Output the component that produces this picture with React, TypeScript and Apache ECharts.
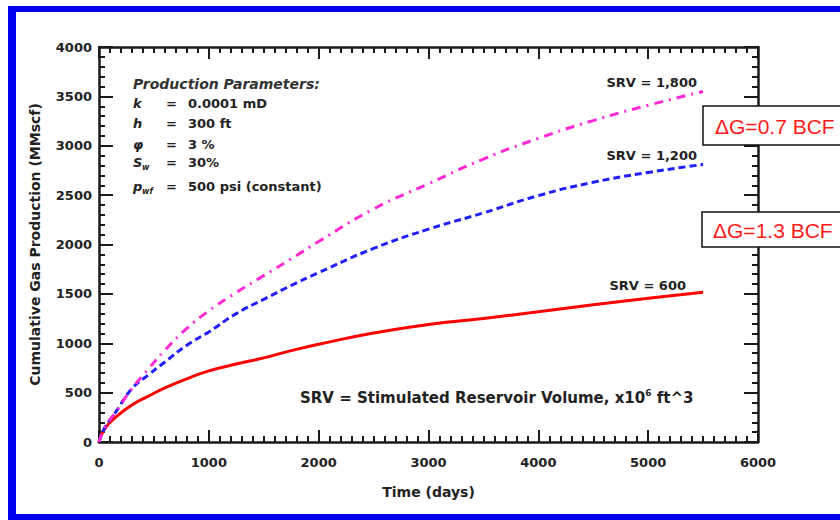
import React, { useEffect, useRef } from "react";
import * as echarts from "echarts";

const timeDays = [0, 50, 150, 300, 450, 600, 800, 1000, 1250, 1500, 1750, 2000, 2500, 3000, 3500, 4000, 4500, 5000, 5500];
const srv600 = [0, 130, 250, 375, 465, 548, 640, 720, 790, 852, 925, 990, 1103, 1190, 1251, 1318, 1390, 1455, 1517];
const srv1200 = [0, 140, 300, 540, 680, 810, 980, 1115, 1300, 1445, 1585, 1715, 1960, 2155, 2320, 2495, 2630, 2730, 2810];
const srv1800 = [0, 140, 300, 540, 740, 930, 1150, 1328, 1514, 1685, 1855, 2030, 2360, 2615, 2865, 3075, 3255, 3410, 3550];

const xTicks = [0, 1000, 2000, 3000, 4000, 5000, 6000];
const yTicks = [0, 500, 1000, 1500, 2000, 2500, 3000, 3500, 4000];

const seriesNames = ["SRV = 600", "SRV = 1,200", "SRV = 1,800"];
const paramLabels = ["k", "h", "\u03c6", "S", "p"];
const paramSubs = ["", "", "", "w", "wf"];
const paramValues = ["0.0001 mD", "300 ft", "3 %", "30%", "500 psi (constant)"];
const deltaLabels = ["\u0394G=0.7 BCF", "\u0394G=1.3 BCF"];

const FONT = "DejaVu Sans";
const INK = "#1a1a1a";

function pairs(vals: number[]) {
  return timeDays.map((t, i) => [t, vals[i]]);
}

function axisBase(show: boolean) {
  return {
    type: "value" as const,
    axisLine: { show: true, onZero: false, lineStyle: { color: INK, width: 2.5 } },
    axisTick: { show: true, inside: true, length: 12, lineStyle: { color: INK, width: 2 } },
    minorTick: { show: true, length: 6, lineStyle: { color: INK, width: 2 } },
    splitLine: { show: false },
    axisLabel: {
      show,
      color: "#222",
      fontFamily: FONT,
      fontWeight: "bold" as const,
      fontSize: 13,
      formatter: (v: number) => String(v),
    },
  };
}

export default function App() {
  const ref = useRef<HTMLDivElement>(null);
  useEffect(() => {
    if (!ref.current) return;
    const chart = echarts.init(ref.current, undefined, { renderer: "svg" });

    const graphics: any[] = [];
    graphics.push({ type: "rect", shape: { x: 8, y: 6, width: 8, height: 514 }, style: { fill: "#0000ee" } });
    graphics.push({ type: "rect", shape: { x: 8, y: 6, width: 832, height: 6 }, style: { fill: "#0000ee" } });
    graphics.push({ type: "rect", shape: { x: 8, y: 514, width: 832, height: 6 }, style: { fill: "#0000ee" } });

    const txt = (text: string, x: number, y: number, font: string, fill = "#222", align = "left") => ({
      type: "text",
      x,
      y,
      style: { text, font, fill, textAlign: align, textVerticalAlign: "middle", align, verticalAlign: "middle" },
      z: 10,
    });

    graphics.push(txt("Production Parameters:", 133, 84, `italic bold 14px "${FONT}"`, "#333"));
    const rowsY = [103, 123, 144, 162, 186];
    paramLabels.forEach((l, i) => {
      graphics.push(txt(l, 133, rowsY[i], `italic bold 13px "${FONT}"`, "#222"));
      if (paramSubs[i]) {
        graphics.push(txt(paramSubs[i], 142, rowsY[i] + 5, `italic bold 8px "${FONT}"`, "#222"));
      }
      graphics.push(txt("=", 166, rowsY[i], `bold 13px "${FONT}"`, "#222"));
      graphics.push(txt(paramValues[i], 188, rowsY[i], `bold 13px "${FONT}"`, "#222"));
    });

    graphics.push(txt(seriesNames[2], 697, 82, `bold 13px "${FONT}"`, "#222", "right"));
    graphics.push(txt(seriesNames[1], 697, 155, `bold 13px "${FONT}"`, "#222", "right"));
    graphics.push(txt(seriesNames[0], 686, 285, `bold 13px "${FONT}"`, "#222", "right"));

    graphics.push({
      type: "text",
      x: 300,
      y: 398,
      z: 10,
      style: {
        text: "SRV = Stimulated Reservoir Volume, x10{sup|6} ft^3",
        font: `bold 15px "${FONT}"`,
        fill: "#222",
        textVerticalAlign: "middle",
        verticalAlign: "middle",
        lineHeight: 20,
        rich: {
          sup: { fontSize: 9, fontWeight: "bold", fontFamily: FONT, verticalAlign: "top", fill: "#222", lineHeight: 20 },
        },
      },
    });

    graphics.push({ type: "rect", z: 20, shape: { x: 703, y: 106, width: 150, height: 39 }, style: { fill: "#fff", stroke: "#111", lineWidth: 1.5 } });
    graphics.push({ ...txt(deltaLabels[0], 715, 126, `21px "Liberation Sans"`, "#ff1a1a"), z: 21 });
    graphics.push({ type: "rect", z: 20, shape: { x: 702, y: 212, width: 150, height: 35 }, style: { fill: "#fff", stroke: "#111", lineWidth: 1.5 } });
    graphics.push({ ...txt(deltaLabels[1], 713, 230, `21px "Liberation Sans"`, "#ff1a1a"), z: 21 });

    const option: any = {
      animation: false,
      backgroundColor: "#fff",
      grid: { left: 99, top: 47, right: 82, bottom: 78, containLabel: false },
      xAxis: [
        {
          ...axisBase(true),
          position: "bottom",
          min: xTicks[0],
          max: xTicks[xTicks.length - 1],
          interval: 1000,
          minorTick: { show: true, splitNumber: 10, length: 6, lineStyle: { color: INK, width: 2 } },
          axisLabel: { ...axisBase(true).axisLabel, margin: 14 },
          name: "Time (days)",
          nameLocation: "middle",
          nameGap: 43,
          nameTextStyle: { color: "#222", fontFamily: FONT, fontWeight: "bold", fontSize: 14 },
        },
        {
          ...axisBase(false),
          position: "top",
          min: xTicks[0],
          max: xTicks[xTicks.length - 1],
          interval: 1000,
          minorTick: { show: true, splitNumber: 10, length: 6, lineStyle: { color: INK, width: 2 } },
        },
      ],
      yAxis: [
        {
          ...axisBase(true),
          position: "left",
          min: yTicks[0],
          max: yTicks[yTicks.length - 1],
          interval: 500,
          axisTick: { show: true, inside: true, length: 14, lineStyle: { color: INK, width: 2 } },
          minorTick: { show: true, splitNumber: 5, length: 6, lineStyle: { color: INK, width: 2 } },
          axisLabel: { ...axisBase(true).axisLabel, margin: 7 },
          name: "Cumulative Gas Production (MMscf)",
          nameLocation: "middle",
          nameRotate: 90,
          nameGap: 57,
          nameTextStyle: { color: "#222", fontFamily: FONT, fontWeight: "bold", fontSize: 14 },
        },
        {
          ...axisBase(false),
          position: "right",
          min: yTicks[0],
          max: yTicks[yTicks.length - 1],
          interval: 500,
          axisTick: { show: true, inside: true, length: 14, lineStyle: { color: INK, width: 2 } },
          minorTick: { show: true, splitNumber: 5, length: 6, lineStyle: { color: INK, width: 2 } },
        },
      ],
      series: [
        {
          name: seriesNames[0],
          type: "line",
          data: pairs(srv600),
          smooth: 0.5,
          showSymbol: false,
          lineStyle: { color: "#ff0000", width: 3 },
          z: 3,
        },
        {
          name: seriesNames[1],
          type: "line",
          data: pairs(srv1200),
          smooth: 0.5,
          showSymbol: false,
          lineStyle: { color: "#1f1fff", width: 3, type: [7, 4] },
          z: 4,
        },
        {
          name: seriesNames[2],
          type: "line",
          data: pairs(srv1800),
          smooth: 0.5,
          showSymbol: false,
          lineStyle: { color: "#ff2ad4", width: 3, type: [9, 6, 2, 6] },
          z: 5,
        },
      ],
      graphic: graphics,
    };
    chart.setOption(option);
    return () => chart.dispose();
  }, []);
  return (
    <div
      ref={ref}
      style={{ position: "fixed", left: 0, top: 0, width: 840, height: 520, background: "#fff" }}
    />
  );
}
